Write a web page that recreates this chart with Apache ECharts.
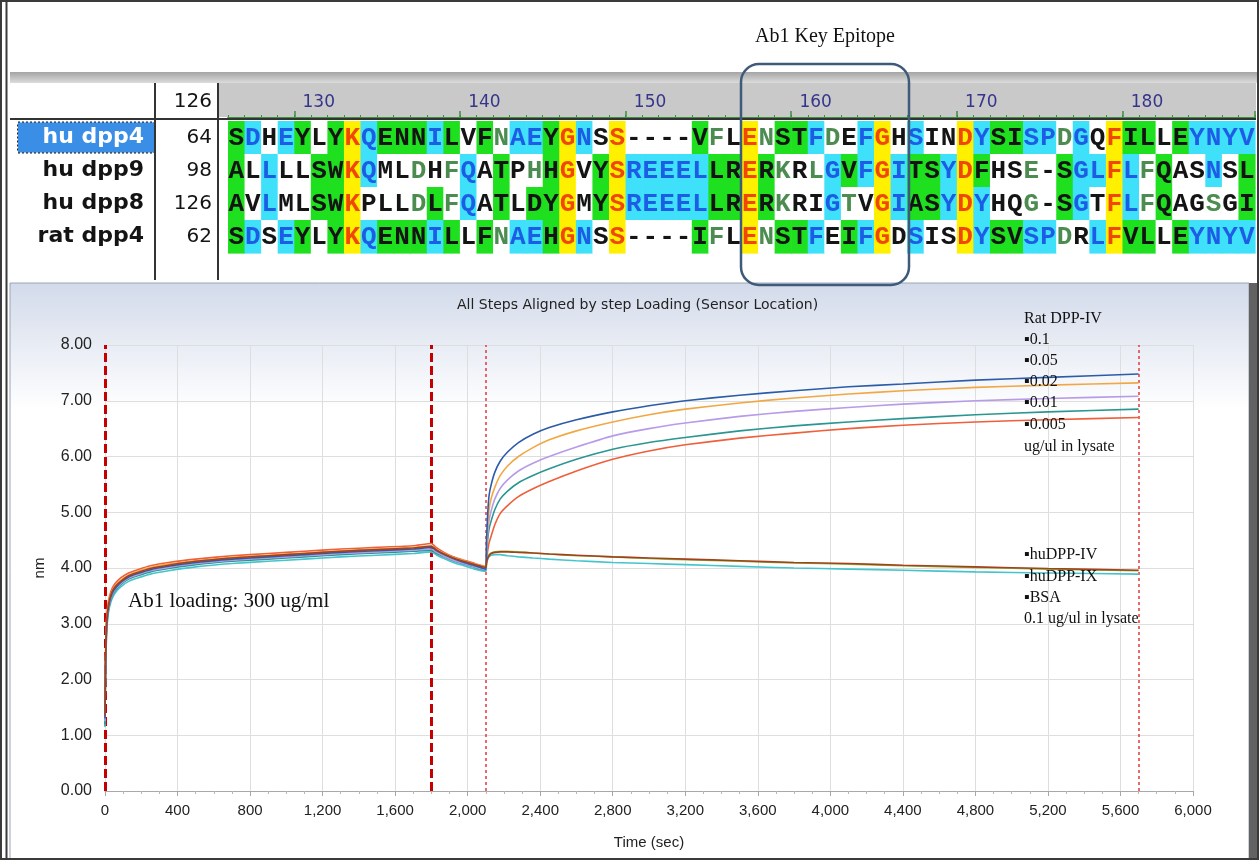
<!DOCTYPE html>
<html><head><meta charset="utf-8">
<script src="https://cdn.jsdelivr.net/npm/echarts@6/dist/echarts.min.js"></script>
<style>html,body{margin:0;padding:0;background:#fff}#c{width:1259px;height:860px}</style>
</head><body><div id="c"></div>
<script>
// ---------- alignment data ----------
const seqNames = ['hu dpp4', 'hu dpp9', 'hu dpp8', 'rat dpp4'];
const seqStarts = [64, 98, 126, 62];
const alignStart = 126;
const rulerLabels = [130, 140, 150, 160, 170, 180];
const sequences = [
  'SDHEYLYKQENNILVFNAEYGNSS----VFLENSTFDEFGHSINDYSISPDGQFILLEYNYV',
  'ALLLLSWKQMLDHFQATPHHGVYSREEELLRERKRLGVFGITSYDFHSE-SGLFLFQASNSL',
  'AVLMLSWKPLLDLFQATLDYGMYSREEELLRERKRIGTVGIASYDYHQG-SGTFLFQAGSGI',
  'SDSEYLYKQENNILLFNAEHGNSS----IFLENSTFEIFGDSISDYSVSPDRLFVLLEYNYV'
];
// background: G green, C cyan, Y yellow, W white
const bgCodes = [
  'GCWCGWGYCGGGCGWGWCCGYCWYWWWWGWWYWGGCWWCYWCWWYCGGCCWCWYGGWGCCCC',
  'GWCWWGGYCWWWWWCWGWWGYWGYCCCCCGGYGWWWCGCYCGGCYGWWWWGCCYCWGWWCWG',
  'GWCWWGGYWWWWGWCWGWGGYWGYCCCCCGGYGWWWCWWYCGGCYCWWWWGCWYCWGWWWWG',
  'GCWCGWGYCGGGCGWGWCCGYCWYWWWWGWWYWGGCWGCYWCWWYCGGCCWWCYGGWGCCCC'
];
// letter colour: k black, b blue, r red, g grey-green
const fgCodes = [
  'kbkbkkkrbkkkbkkkgbbkrbkrkkkkkgkrgkkbgkbrkbkkrbkkbbgbkrkkkkbbbb',
  'kkbkkkkrbkkgkgbkkkgkrkkrbbbbbkkrkgkgbkbrbkkbrkkkgkkbbrbgkkkbkk',
  'kkbkkkkrkkkgkgbkkkkkrkkrbbbbbkkrkgkkbgkrbkkbrbkkgkkbkrbgkkkgkk',
  'kbkbkkkrbkkkbkkkgbbkrbkrkkkkkgkrgkkbkkbrkbkkrbkkbbgkbrkkkkbbbb'
];
const bgColors = {G: '#1ee01e', C: '#3fe0fa', Y: '#fff000', W: '#ffffff'};
const fgColors = {k: '#141414', b: '#1d5de6', r: '#f04800', g: '#4c8c50'};

// ---------- sensorgram data ----------
const timeSec = [0, 3, 8, 15, 25, 40, 60, 90, 130, 180, 250, 350, 500, 700, 900, 1100, 1300, 1500, 1700, 1800,
  1830, 1870, 1920, 1980, 2040, 2100,
  2104, 2110, 2118, 2130, 2150, 2180, 2220, 2280, 2360, 2450, 2600, 2800, 3000, 3200, 3500, 3800, 4100, 4400, 4800, 5200, 5700];
const bsa01 = [1.15, 2.15, 2.75, 3.1, 3.3, 3.46, 3.57, 3.67, 3.76, 3.82, 3.89, 3.95, 4.02, 4.08, 4.12, 4.16, 4.2, 4.23, 4.26, 4.29,
  4.23, 4.17, 4.1, 4.04, 3.98, 3.94,
  4.08, 4.15, 4.2, 4.23, 4.24, 4.24, 4.22, 4.2, 4.18, 4.16, 4.13, 4.1, 4.08, 4.06, 4.03, 4.0, 3.98, 3.96, 3.93, 3.91, 3.89];
const huDPP9_01 = [1.3, 2.3, 2.9, 3.2, 3.41, 3.56, 3.66, 3.76, 3.85, 3.91, 3.98, 4.04, 4.11, 4.17, 4.21, 4.25, 4.29, 4.32, 4.35, 4.38,
  4.31, 4.24, 4.17, 4.11, 4.05, 4.0,
  4.12, 4.19, 4.24, 4.27, 4.29, 4.3, 4.3, 4.29, 4.27, 4.25, 4.22, 4.2, 4.17, 4.15, 4.12, 4.09, 4.07, 4.04, 4.01, 3.98, 3.95];
const rat0005 = [1.45, 2.45, 3.05, 3.32, 3.5, 3.64, 3.74, 3.83, 3.91, 3.97, 4.04, 4.1, 4.16, 4.22, 4.26, 4.3, 4.34, 4.37, 4.4, 4.44,
  4.36, 4.28, 4.2, 4.14, 4.08, 4.03,
  4.15, 4.3, 4.45, 4.58, 4.78, 4.98, 5.12, 5.28, 5.42, 5.55, 5.74, 5.95, 6.1, 6.21, 6.33, 6.42, 6.5, 6.56, 6.62, 6.66, 6.7];
const rat001 = [1.2, 2.2, 2.8, 3.14, 3.35, 3.5, 3.61, 3.71, 3.8, 3.86, 3.93, 3.99, 4.06, 4.12, 4.16, 4.2, 4.24, 4.27, 4.3, 4.32,
  4.26, 4.2, 4.13, 4.07, 4.01, 3.96,
  4.25, 4.5, 4.7, 4.85, 5.05, 5.24, 5.38, 5.53, 5.66, 5.78, 5.95, 6.13, 6.25, 6.34, 6.46, 6.55, 6.62, 6.68, 6.75, 6.8, 6.85];
const rat002 = [1.25, 2.25, 2.85, 3.17, 3.37, 3.52, 3.63, 3.73, 3.82, 3.88, 3.95, 4.01, 4.08, 4.14, 4.18, 4.22, 4.26, 4.29, 4.32, 4.34,
  4.28, 4.21, 4.14, 4.08, 4.02, 3.97,
  4.3, 4.6, 4.85, 5.03, 5.24, 5.43, 5.58, 5.74, 5.88, 6.0, 6.17, 6.37, 6.5, 6.6, 6.72, 6.81, 6.88, 6.94, 7.0, 7.04, 7.08];
const rat005 = [1.4, 2.4, 3.0, 3.28, 3.46, 3.6, 3.7, 3.79, 3.87, 3.94, 4.01, 4.07, 4.13, 4.19, 4.23, 4.27, 4.31, 4.34, 4.37, 4.4,
  4.33, 4.26, 4.19, 4.13, 4.07, 4.02,
  4.4, 4.75, 5.05, 5.25, 5.45, 5.66, 5.83, 6.0, 6.16, 6.3, 6.46, 6.62, 6.75, 6.85, 6.96, 7.05, 7.12, 7.18, 7.24, 7.28, 7.32];
const rat01 = [1.3, 2.3, 2.9, 3.2, 3.4, 3.55, 3.65, 3.75, 3.84, 3.9, 3.97, 4.03, 4.1, 4.16, 4.2, 4.24, 4.28, 4.31, 4.34, 4.37,
  4.31, 4.24, 4.17, 4.1, 4.04, 3.98,
  4.5, 4.95, 5.3, 5.5, 5.72, 5.92, 6.08, 6.25, 6.4, 6.52, 6.66, 6.8, 6.91, 7.0, 7.1, 7.18, 7.25, 7.3, 7.37, 7.42, 7.48];
const huDPP4_01 = [1.35, 2.35, 2.95, 3.24, 3.43, 3.58, 3.68, 3.77, 3.86, 3.92, 3.99, 4.05, 4.12, 4.18, 4.22, 4.26, 4.3, 4.33, 4.36, 4.39,
  4.32, 4.25, 4.18, 4.12, 4.06, 4.01,
  4.1, 4.17, 4.22, 4.26, 4.28, 4.29, 4.29, 4.28, 4.27, 4.25, 4.23, 4.2, 4.18, 4.16, 4.13, 4.1, 4.08, 4.05, 4.02, 3.99, 3.96];
const seriesNames = ['BSA 0.1', 'huDPP-IX 0.1', 'Rat DPP-IV 0.005', 'Rat DPP-IV 0.01', 'Rat DPP-IV 0.02', 'Rat DPP-IV 0.05', 'Rat DPP-IV 0.1', 'huDPP-IV 0.1'];
const seriesValues = [bsa01, huDPP9_01, rat0005, rat001, rat002, rat005, rat01, huDPP4_01];
const seriesColors = ['#46c4cc', '#86bf3e', '#ee5f3a', '#2a9690', '#b89be8', '#f1a844', '#2b5ca8', '#a5401e'];
const stepLines = [0, 1800, 2100, 5700];
const ratLegend = ['Rat DPP-IV', '\u25AA0.1', '\u25AA0.05', '\u25AA0.02', '\u25AA0.01', '\u25AA0.005', 'ug/ul in lysate'];
const ctrlLegend = ['\u25AAhuDPP-IV', '\u25AAhuDPP-IX', '\u25AABSA', '0.1 ug/ul in lysate'];

// ---------- build ----------
const nCols = sequences[0].length;
const colNums = [];
for (let i = 0; i < nCols; i++) colNums.push(String(alignStart + i));
const cells = [];
sequences.forEach((s, r) => {
  for (let c = 0; c < s.length; c++) cells.push({value: [c, r], ch: s[c], bg: bgColors[bgCodes[r][c]], fg: fgColors[fgCodes[r][c]]});
});

const chart = echarts.init(document.getElementById('c'), null, {renderer: 'canvas'});

const lineSeries = seriesValues.map((vals, k) => ({
  name: seriesNames[k], type: 'line', xAxisIndex: 2, yAxisIndex: 1,
  data: vals.map((v, i) => [timeSec[i], v]),
  showSymbol: false, smooth: 0.15, lineStyle: {width: 1.6, color: seriesColors[k]},
  itemStyle: {color: seriesColors[k]}, z: 5, animation: false
}));

const serif = '"Liberation Serif", "DejaVu Serif", serif';
const sans = '"Liberation Sans", Arial, sans-serif';

const graphics = [
  // chart panel background
  {type: 'rect', z: -100, silent: true, shape: {x: 10, y: 283, width: 1239, height: 577},
   style: {fill: new echarts.graphic.LinearGradient(0, 0, 0, 1, [{offset: 0, color: '#d2daea'}, {offset: 0.22, color: '#ffffff'}, {offset: 1, color: '#ffffff'}]), stroke: '#9aa4b6', lineWidth: 1}},
  {type: 'rect', z: -99, silent: true, shape: {x: 1249, y: 283, width: 10, height: 577}, style: {fill: '#626262'}},
  // alignment top band
  {type: 'rect', z: -100, silent: true, shape: {x: 10, y: 72, width: 1247, height: 11},
   style: {fill: new echarts.graphic.LinearGradient(0, 0, 0, 1, [{offset: 0, color: '#a4a4a4'}, {offset: 1, color: '#dcdcdc'}])}},
  // ruler background
  {type: 'rect', z: -100, silent: true, shape: {x: 219, y: 83, width: 1037, height: 34}, style: {fill: '#c9c9c9'}},
  // dividers
  {type: 'line', z: 50, silent: true, shape: {x1: 10, y1: 119, x2: 1256, y2: 119}, style: {stroke: '#333', lineWidth: 2}},
  {type: 'line', z: 50, silent: true, shape: {x1: 155, y1: 83, x2: 155, y2: 280}, style: {stroke: '#333', lineWidth: 2}},
  {type: 'line', z: 50, silent: true, shape: {x1: 218, y1: 83, x2: 218, y2: 280}, style: {stroke: '#333', lineWidth: 2}},
  {type: 'text', z: 50, silent: true, style: {text: String(alignStart), x: 212, y: 102, align: 'right', verticalAlign: 'middle', font: '20px "DejaVu Sans", sans-serif', fill: '#141414'}},
  // epitope box
  {type: 'rect', z: 100, silent: true, shape: {x: 741, y: 64, width: 168, height: 221, r: 18}, style: {fill: 'none', stroke: '#3e5b7a', lineWidth: 2.5}},
  {type: 'text', z: 100, silent: true, style: {text: 'Ab1 Key Epitope', x: 825, y: 37, align: 'center', verticalAlign: 'middle', font: '20px ' + serif, fill: '#111'}},
  // chart title
  {type: 'text', z: 100, silent: true, style: {text: 'All Steps Aligned by step Loading (Sensor Location)', x: 457, y: 305, align: 'left', verticalAlign: 'middle', font: '14px "DejaVu Sans", sans-serif', fill: '#222'}},
  {type: 'text', z: 100, silent: true, style: {text: 'Ab1 loading: 300 ug/ml', x: 128, y: 601, align: 'left', verticalAlign: 'middle', font: '21px ' + serif, fill: '#111'}},
  // outer frame
  {type: 'rect', z: 200, silent: true, shape: {x: 1, y: 1, width: 1257, height: 858}, style: {fill: 'none', stroke: '#3a3a3a', lineWidth: 2}},
  {type: 'line', z: 200, silent: true, shape: {x1: 6.5, y1: 0, x2: 6.5, y2: 860}, style: {stroke: '#3a3a3a', lineWidth: 2}}
];
const ratY = [319, 340, 361, 382, 403, 425, 447];
ratLegend.forEach((t, i) => graphics.push({type: 'text', z: 100, silent: true, style: {text: t, x: 1024, y: ratY[i], verticalAlign: 'middle', font: '16px ' + serif, fill: '#111'}}));
const ctrlY = [555, 577, 598, 619];
ctrlLegend.forEach((t, i) => graphics.push({type: 'text', z: 100, silent: true, style: {text: t, x: 1024, y: ctrlY[i], verticalAlign: 'middle', font: '16px ' + serif, fill: '#111'}}));

const nameRich = {
  hl: {color: '#fff', backgroundColor: '#3a8ee6', borderColor: '#222', borderType: 'dotted', borderWidth: 1,
       width: 126, height: 24, lineHeight: 24, padding: [3, 10, 3, 0], align: 'right', fontWeight: 'bold', fontSize: 22, fontFamily: 'DejaVu Sans'},
  nm: {color: '#141414', width: 126, height: 24, lineHeight: 24, padding: [3, 10, 3, 0], align: 'right', fontWeight: 'bold', fontSize: 22, fontFamily: 'DejaVu Sans'},
  gap: {width: 14},
  num: {color: '#141414', width: 44, align: 'right', fontSize: 20, fontFamily: 'DejaVu Sans'}
};

const option = {
  animation: false,
  backgroundColor: '#ffffff',
  grid: [
    {left: 228, top: 121, width: 1027, height: 132},
    {left: 105, top: 345, width: 1088, height: 446}
  ],
  xAxis: [
    {type: 'category', gridIndex: 0, data: colNums, position: 'top', offset: 3, boundaryGap: true,
     axisLine: {show: true, lineStyle: {color: '#3f8f3f', width: 2}},
     axisTick: {show: true, interval: 0, length: 3, lineStyle: {color: '#3f8f3f'}},
     axisLabel: {interval: (i, v) => rulerLabels.indexOf(Number(v)) >= 0, align: 'left', margin: 7,
                 color: '#35358c', fontSize: 17, fontFamily: 'DejaVu Sans'},
     splitLine: {show: false}},
    {type: 'category', gridIndex: 0, data: colNums, position: 'top', offset: 3, boundaryGap: true,
     axisLine: {show: false},
     axisTick: {show: true, interval: (i, v) => Number(v) % 10 === 0, length: 7, lineStyle: {color: '#3f8f3f', width: 1.5}},
     axisLabel: {show: false}, splitLine: {show: false}},
    {type: 'value', gridIndex: 1, min: 0, max: 6000, interval: 400,
     axisLine: {show: true, lineStyle: {color: '#a8a8a8'}},
     axisTick: {show: true, length: 5, lineStyle: {color: '#a8a8a8'}},
     minorTick: {show: true, splitNumber: 4, length: 3, lineStyle: {color: '#b8b8b8'}},
     splitLine: {show: true, lineStyle: {color: '#dedede'}},
     axisLabel: {margin: 12, fontSize: 15, color: '#222', fontFamily: sans, formatter: v => v.toLocaleString('en-US')},
     name: 'Time (sec)', nameLocation: 'middle', nameGap: 44, nameTextStyle: {fontSize: 15, color: '#222', fontFamily: sans}}
  ],
  yAxis: [
    {type: 'category', gridIndex: 0, data: seqNames, inverse: true,
     axisLine: {show: false}, axisTick: {show: false}, splitLine: {show: false},
     axisLabel: {margin: 16, formatter: (v, i) => (i === 0 ? '{hl|' : '{nm|') + v + '}{gap|}{num|' + seqStarts[i] + '}', rich: nameRich}},
    {type: 'value', gridIndex: 1, min: 0, max: 8, interval: 1,
     axisLine: {show: false}, axisTick: {show: false},
     splitLine: {show: true, lineStyle: {color: '#dedede'}},
     axisLabel: {margin: 13, fontSize: 16, color: '#222', fontFamily: sans, formatter: v => v.toFixed(2)},
     name: 'nm', nameLocation: 'middle', nameGap: 58, nameRotate: 90, nameTextStyle: {fontSize: 15, color: '#222', fontFamily: sans}}
  ],
  series: [
    {type: 'custom', xAxisIndex: 0, yAxisIndex: 0, data: cells, z: 3, animation: false,
     renderItem: function (params, api) {
       const cell = cells[params.dataIndex];
       const p = api.coord([api.value(0), api.value(1)]);
       const s = api.size([1, 1]);
       return {type: 'group', children: [
         {type: 'rect', shape: {x: p[0] - s[0] / 2, y: p[1] - s[1] / 2, width: s[0] + 0.6, height: s[1] + 0.6}, style: {fill: cell.bg}},
         {type: 'text', style: {text: cell.ch, x: p[0], y: p[1] + 1, align: 'center', verticalAlign: 'middle',
           font: 'bold 26px "Liberation Mono", "DejaVu Sans Mono", monospace', fill: cell.fg}}
       ]};
     }},
    ...lineSeries,
    {type: 'line', xAxisIndex: 2, yAxisIndex: 1, data: [], z: 6,
     markLine: {symbol: 'none', silent: true, animation: false, label: {show: false},
       data: stepLines.map((x, i) => ({xAxis: x, lineStyle: i < 2 ? {color: '#c40000', width: 3, type: [9, 4]} : {color: '#e23a3a', width: 1.5, type: [3, 3]}}))}}
  ],
  graphic: {elements: graphics}
};
chart.setOption(option);
</script>
</body></html>
